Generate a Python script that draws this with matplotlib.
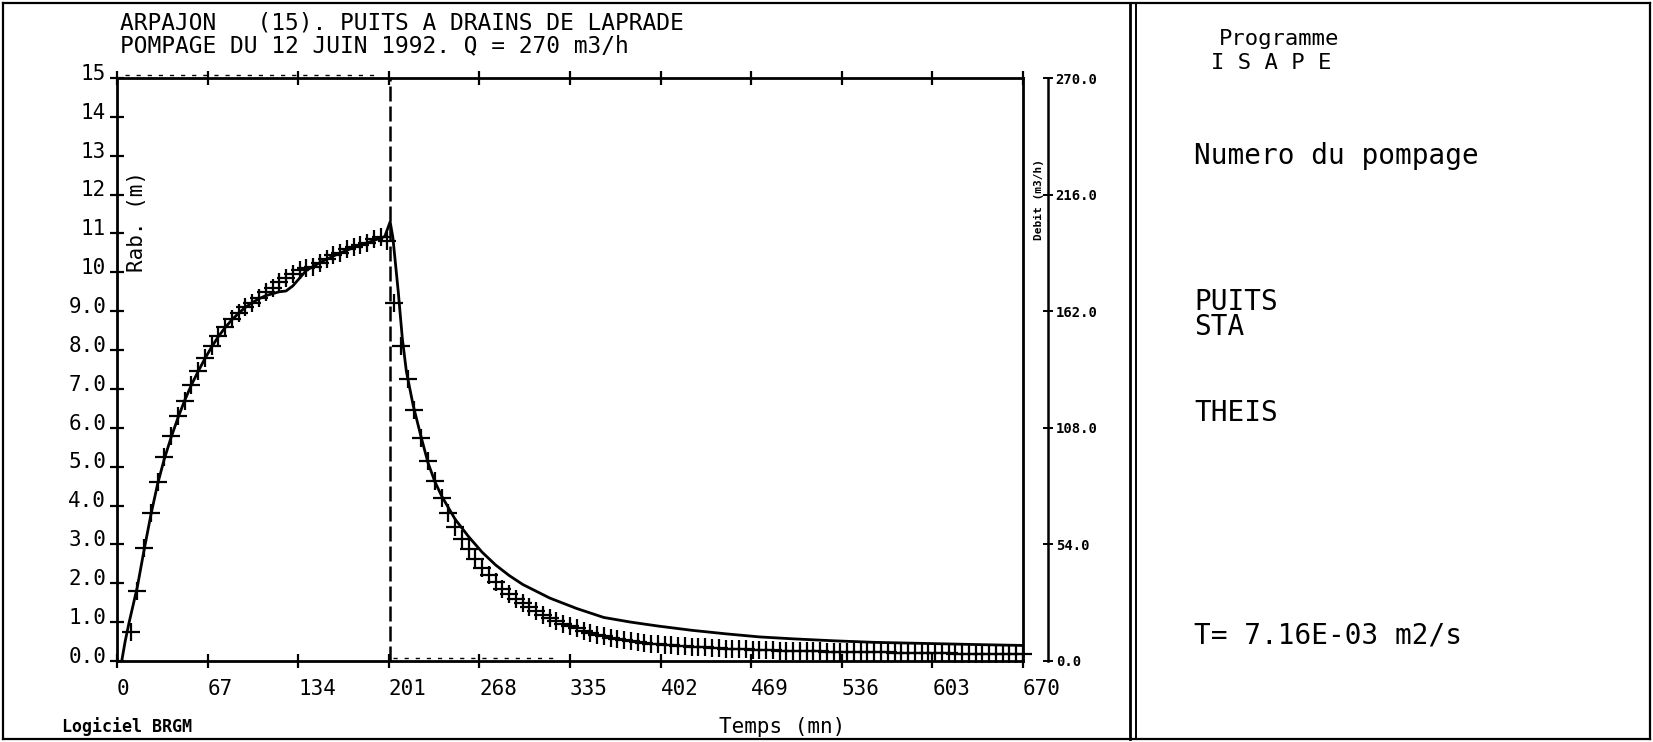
import matplotlib
matplotlib.use("Agg")
import matplotlib.pyplot as plt
from matplotlib.lines import Line2D
from matplotlib.transforms import ScaledTranslation

# ---------------- data ----------------
x_ticks = [0, 67, 134, 201, 268, 335, 402, 469, 536, 603, 670]
x_labels = ["0", "67", "134", "201", "268", "335", "402", "469", "536", "603", "670"]
y_ticks = [0, 1, 2, 3, 4, 5, 6, 7, 8, 9, 10, 11, 12, 13, 14, 15]
y_labels = ["0.0", "1.0", "2.0", "3.0", "4.0", "5.0", "6.0", "7.0", "8.0", "9.0",
            "10", "11", "12", "13", "14", "15"]
q_ticks = [0, 54, 108, 162, 216, 270]
q_labels = ["0.0", "54.0", "108.0", "162.0", "216.0", "270.0"]

stop_time = 202

# observed drawdown (m) - pumping phase
obs_t_pump = [10, 15, 20, 25, 30, 35, 40, 45, 50, 55, 60, 65, 70, 75, 80, 85, 90, 95,
              100, 105, 110, 115, 120, 125, 130, 135, 140, 145, 150, 155, 160, 165,
              170, 175, 180, 185, 190, 195, 200]
obs_s_pump = [0.75, 1.8, 2.9, 3.8, 4.6, 5.25, 5.8, 6.3, 6.7, 7.1, 7.45, 7.8, 8.1, 8.35,
              8.6, 8.8, 8.95, 9.1, 9.2, 9.35, 9.5, 9.6, 9.75, 9.85, 9.95, 10.05, 10.1,
              10.15, 10.25, 10.35, 10.45, 10.5, 10.6, 10.65, 10.7, 10.75, 10.85, 10.9,
              10.8]
# observed residual drawdown (m) - recovery phase
obs_t_rec = [205, 210, 215, 220, 225, 230, 235, 240, 245, 250, 255, 260, 265, 270, 275,
             280, 285, 290, 295, 300, 305, 310, 315, 320, 325, 330, 335, 340, 345, 350,
             355, 360, 365, 370, 375, 380, 385, 390, 395, 400, 405, 410, 415, 420, 425,
             430, 435, 440, 445, 450, 455, 460, 465, 470, 475, 480, 485, 490, 495, 500,
             505, 510, 515, 520, 525, 530, 535, 540, 545, 550, 555, 560, 565, 570, 575,
             580, 585, 590, 595, 600, 605, 610, 615, 620, 625, 630, 635, 640, 645, 650,
             655, 660, 665, 670]
obs_s_rec = [9.2, 8.1, 7.25, 6.45, 5.75, 5.15, 4.62, 4.2, 3.8, 3.45, 3.15, 2.88, 2.62,
             2.4, 2.2, 2.02, 1.86, 1.72, 1.6, 1.48, 1.38, 1.28, 1.19, 1.11, 1.03, 0.96,
             0.9, 0.84, 0.78, 0.73, 0.68, 0.64, 0.6, 0.57, 0.54, 0.51, 0.49, 0.47, 0.45,
             0.43, 0.42, 0.4, 0.39, 0.38, 0.37, 0.36, 0.35, 0.34, 0.33, 0.32, 0.31, 0.31,
             0.3, 0.29, 0.29, 0.28, 0.28, 0.27, 0.27, 0.26, 0.26, 0.25, 0.25, 0.25, 0.24,
             0.24, 0.24, 0.23, 0.23, 0.23, 0.22, 0.22, 0.22, 0.22, 0.21, 0.21, 0.21, 0.21,
             0.2, 0.2, 0.2, 0.2, 0.2, 0.19, 0.19, 0.19, 0.19, 0.19, 0.18, 0.18, 0.18,
             0.18, 0.18, 0.18]

# Theis computed curve
calc_t = [3.5, 6, 9, 12, 15, 20, 25, 30, 35, 40, 45, 50, 55, 60, 65, 70, 75, 80, 85,
          90, 95, 100, 105, 110, 115, 120, 125, 130, 135, 140, 145, 150, 160, 170,
          180, 190, 198, 202, 204, 206, 208, 211, 214, 219, 225, 230, 235, 240, 250,
          260, 270, 280, 290, 300, 320, 340, 360, 380, 400, 425, 450, 475, 500, 530,
          560, 600, 640, 670]
calc_s = [0.0, 0.5, 1.0, 1.45, 1.9, 2.85, 3.75, 4.55, 5.2, 5.75, 6.25, 6.7, 7.1, 7.45,
          7.78, 8.08, 8.35, 8.58, 8.78, 8.95, 9.1, 9.22, 9.32, 9.4, 9.45, 9.5, 9.52,
          9.65, 9.85, 10.05, 10.15, 10.25, 10.42, 10.57, 10.7, 10.82, 10.92, 11.3,
          10.9, 10.2, 9.5, 8.3, 7.45, 6.58, 5.75, 5.1, 4.62, 4.25, 3.65, 3.2, 2.8,
          2.47, 2.2, 1.97, 1.62, 1.35, 1.12, 1.0, 0.9, 0.79, 0.7, 0.62, 0.57, 0.52,
          0.48, 0.45, 0.42, 0.4]

# pumping rate (m3/h)
q_t_pump = [6, 192]
q_v_pump = [270, 270]
q_t_rec = [204, 325]
q_v_rec = [0, 0]

# ---------------- figure ----------------
W, H = 1653, 742
fig = plt.figure(figsize=(W / 100, H / 100), dpi=100)
fig.patch.set_facecolor("white")
MONO = "DejaVu Sans Mono"


def fx(px):
    return px / W


def fy(py):
    return 1 - py / H


L, R, T, B = 117, 1023, 78, 661
ax = fig.add_axes([fx(L), fy(B), fx(R) - fx(L), fy(T) - fy(B)])
ax.set_xlim(0, 670)
ax.set_ylim(0, 15)
for s in ax.spines.values():
    s.set_linewidth(2.0)
ax.set_xticks(x_ticks, labels=x_labels)
ax.set_yticks(y_ticks, labels=y_labels)
ax.tick_params(axis="both", direction="inout", length=9.5, width=1.6,
               top=True, right=True, labeltop=False, labelright=False)
ax.tick_params(axis="x", pad=8)
ax.tick_params(axis="y", pad=3)
up = ScaledTranslation(0, 3 / 72, fig.dpi_scale_trans)
for lab in ax.get_xticklabels():
    lab.set_fontfamily(MONO)
    lab.set_fontsize(15)
    lab.set_horizontalalignment("left")
for lab in ax.get_yticklabels():
    lab.set_fontfamily(MONO)
    lab.set_fontsize(15)
    lab.set_verticalalignment("center")
    lab.set_transform(lab.get_transform() + up)

# curves
ax.plot(calc_t, calc_s, color="black", lw=2.0, zorder=3)
ax.plot(obs_t_pump, obs_s_pump, ls="none", marker="+", ms=13, mew=1.6,
        color="black", zorder=4, clip_on=False)
ax.plot(obs_t_rec, obs_s_rec, ls="none", marker="+", ms=13, mew=1.6,
        color="black", zorder=4, clip_on=False)
ax.axvline(stop_time, color="black", lw=1.8, ls=(0, (6, 2)), zorder=2)

# discharge axis
ax2 = ax.twinx()
ax2.set_ylim(0, 270)
ax2.spines["right"].set_position(("axes", 1 + 25 / (R - L)))
for k in ("left", "top", "bottom"):
    ax2.spines[k].set_visible(False)
ax2.spines["right"].set_linewidth(1.8)
ax2.set_yticks(q_ticks, labels=q_labels)
ax2.tick_params(axis="y", direction="inout", length=7, width=1.4, pad=2)
for lab in ax2.get_yticklabels():
    lab.set_fontfamily(MONO)
    lab.set_fontsize(10)
    lab.set_fontweight("bold")
shift_top = ScaledTranslation(0, 2.2 / 72, fig.dpi_scale_trans)
shift_bot = ScaledTranslation(0, 2.5 / 72, fig.dpi_scale_trans)
ax2.plot(q_t_pump, q_v_pump, color="black", lw=1.0, ls=(0, (3, 5)), zorder=2,
         transform=ax2.transData + shift_top, clip_on=False)
ax2.plot(q_t_rec, q_v_rec, color="black", lw=1.0, ls=(0, (3, 5)), zorder=2,
         transform=ax2.transData + shift_bot)

# axis titles
fig.text(fx(137), fy(222), "Rab. (m)", rotation=90, ha="center", va="center",
         family=MONO, fontsize=15)
fig.text(fx(1039), fy(200), "Debit (m3/h)", rotation=90, ha="center", va="center",
         family=MONO, fontsize=8, fontweight="bold")
fig.text(fx(782), fy(727), "Temps (mn)", ha="center", va="center",
         family=MONO, fontsize=15)
fig.text(fx(62), fy(727), "Logiciel BRGM", ha="left", va="center",
         family=MONO, fontsize=12, fontweight="bold")

# titles
fig.text(fx(120), fy(23), "ARPAJON   (15). PUITS A DRAINS DE LAPRADE", ha="left",
         va="center", family=MONO, fontsize=16.5)
fig.text(fx(120), fy(46), "POMPAGE DU 12 JUIN 1992. Q = 270 m3/h", ha="left",
         va="center", family=MONO, fontsize=16.5)

# right panel
fig.text(fx(1279), fy(39), "Programme", ha="center", va="center", family=MONO,
         fontsize=16)
fig.text(fx(1271), fy(63), "I S A P E", ha="center", va="center", family=MONO,
         fontsize=16)
fig.text(fx(1194), fy(156), "Numero du pompage", ha="left", va="center",
         family=MONO, fontsize=20)
fig.text(fx(1194), fy(302), "PUITS", ha="left", va="center", family=MONO, fontsize=20)
fig.text(fx(1194), fy(327), "STA", ha="left", va="center", family=MONO, fontsize=20)
fig.text(fx(1194), fy(413), "THEIS", ha="left", va="center", family=MONO, fontsize=20)
fig.text(fx(1194), fy(636), "T= 7.16E-03 m2/s", ha="left", va="center",
         family=MONO, fontsize=20)


# frames
def fline(x0, y0, x1, y1, lw=1.6):
    fig.add_artist(Line2D([fx(x0), fx(x1)], [fy(y0), fy(y1)], color="black", lw=lw,
                          transform=fig.transFigure))


fline(3, 3, 1650, 3)
fline(3, 739, 1650, 739)
fline(3, 3, 3, 739)
fline(1650, 3, 1650, 739)
fline(1130, 3, 1130, 739, 2.0)
fline(1136, 3, 1136, 739, 1.4)

fig.savefig("out.png", dpi=100, facecolor="white")
